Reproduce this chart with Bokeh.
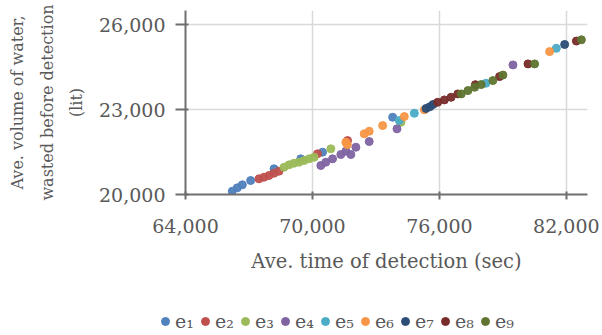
from bokeh.plotting import figure
from bokeh.layouts import column
from bokeh.models import Range1d, FixedTicker, NumeralTickFormatter, Legend, LegendItem
from bokeh.embed import file_html
from bokeh.resources import INLINE

series_names = ["e\u2081", "e\u2082", "e\u2083", "e\u2084", "e\u2085", "e\u2086", "e\u2087", "e\u2088", "e\u2089"]
colors = ["#4F81BD", "#C0504D", "#9BBB59", "#8064A2", "#4BACC6", "#F79646", "#2C4D75", "#772C2A", "#5F7530"]

e1_x = [66212, 66449, 66686, 67079, 68183, 69448, 70476, 73791]
e1_y = [20116, 20236, 20342, 20494, 20907, 21260, 21494, 22729]
e2_x = [67473, 67710, 67947, 68183, 68420, 70238, 71660]
e2_y = [20554, 20611, 20671, 20753, 20823, 21437, 21906]
e3_x = [68657, 68894, 69130, 69367, 69604, 69841, 70078, 70869, 74185]
e3_y = [20964, 21048, 21105, 21140, 21200, 21260, 21317, 21613, 22552]
e4_x = [70395, 70632, 70950, 71342, 71816, 71580, 72053, 72683, 73995, 79476]
e4_y = [21024, 21140, 21260, 21412, 21412, 21530, 21670, 21871, 22319, 24578]
e5_x = [74104, 74815, 78200, 81527]
e5_y = [22612, 22870, 23930, 25164]
e6_x = [71579, 71650, 72446, 72683, 73318, 74342, 75289, 81211]
e6_y = [21846, 21760, 22143, 22234, 22435, 22753, 22990, 25048]
e7_x = [75370, 75550, 75700, 81920]
e7_y = [23040, 23100, 23180, 25300]
e8_x = [75920, 76236, 76552, 76870, 77700, 78843, 80187, 82475]
e8_y = [23258, 23342, 23434, 23553, 23880, 24165, 24614, 25420]
e9_x = [77034, 77350, 77666, 77974, 78529, 79003, 80500, 82711]
e9_y = [23554, 23671, 23788, 23883, 24024, 24220, 24614, 25465]

xs = [e1_x, e2_x, e3_x, e4_x, e5_x, e6_x, e7_x, e8_x, e9_x]
ys = [e1_y, e2_y, e3_y, e4_y, e5_y, e6_y, e7_y, e8_y, e9_y]

x_ticks = [64000, 70000, 76000, 82000]
y_ticks = [20000, 23000, 26000]

FONT = "DejaVu Serif"
TXT = "#595959"

p = figure(width=602, height=290, output_backend="svg", toolbar_location=None,
           x_range=Range1d(64000, 83000), y_range=Range1d(20000, 26500),
           min_border_left=185, min_border_right=15, min_border_top=10, min_border_bottom=96)
p.outline_line_color = None
p.frame_align = False

for c, x, y in zip(colors, xs, ys):
    p.scatter(x, y, size=8, color=c, alpha=0.95)

for ax in (p.xaxis, p.yaxis):
    ax.axis_line_color = "#6f6f6f"
    ax.axis_line_width = 2
    ax.major_tick_line_color = "#6f6f6f"
    ax.major_tick_line_width = 2
    ax.minor_tick_line_color = None
    ax.major_label_text_font = FONT
    ax.major_label_text_color = TXT
    ax.major_label_text_font_size = "19px"
    ax.axis_label_text_font = FONT
    ax.axis_label_text_color = TXT
    ax.axis_label_text_font_style = "normal"
    ax.formatter = NumeralTickFormatter(format="0,0")

p.xaxis.ticker = FixedTicker(ticks=x_ticks)
p.yaxis.ticker = FixedTicker(ticks=y_ticks)
p.xaxis.major_tick_in = 3
p.xaxis.major_tick_out = 5
p.yaxis.major_tick_in = 3
p.yaxis.major_tick_out = 10
p.xaxis.major_label_standoff = 19
p.yaxis.major_label_standoff = 10
p.xaxis.axis_label = "Ave. time of detection (sec)"
p.xaxis.axis_label_text_font_size = "19.5px"
p.xaxis.axis_label_standoff = 14
p.yaxis.axis_label = "Ave. volume of water,\nwasted before detection\n(lit)"
p.yaxis.axis_label_text_font_size = "16px"
p.yaxis.axis_label_text_line_height = 1.55
p.yaxis.axis_label_standoff = 10

p.xgrid.ticker = FixedTicker(ticks=x_ticks)
p.ygrid.ticker = FixedTicker(ticks=y_ticks)
p.grid.grid_line_color = "#d9d9d9"
p.grid.grid_line_width = 1.5

# legend strip
q = figure(width=602, height=45, output_backend="svg", toolbar_location=None,
           x_range=Range1d(0, 1), y_range=Range1d(0, 1),
           min_border_left=0, min_border_right=0, min_border_top=0, min_border_bottom=0)
q.outline_line_color = None
q.frame_align = False
q.axis.visible = False
q.grid.visible = False

items = []
for name, c in zip(series_names, colors):
    r = q.scatter([-5], [-5], size=8, color=c)
    items.append(LegendItem(label=name, renderers=[r]))

legend = Legend(items=items, orientation="horizontal", location=(155, 3),
                glyph_width=20, glyph_height=20, label_standoff=-5, spacing=0,
                padding=0, margin=0, border_line_color=None, background_fill_alpha=0,
                label_text_font=FONT, label_text_font_size="19px", label_text_color=TXT)
q.add_layout(legend, "center")

layout = column(p, q, spacing=0)
open("out.html", "w").write(file_html(layout, INLINE))
